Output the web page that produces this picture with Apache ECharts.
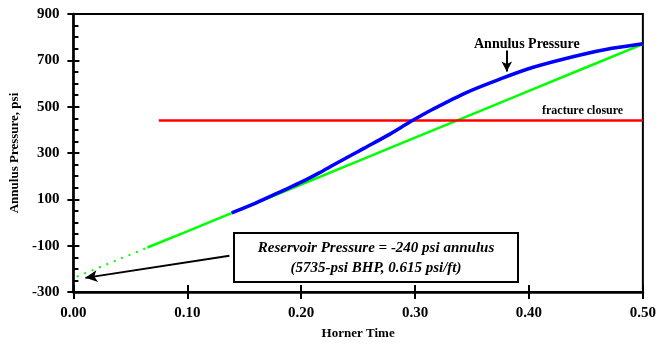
<!DOCTYPE html>
<html>
<head>
<meta charset="utf-8">
<script src="https://cdn.jsdelivr.net/npm/echarts@6/dist/echarts.min.js"></script>
<style>
html,body{margin:0;padding:0;background:#fff;}
#c{width:659px;height:349px;}
</style>
</head>
<body>
<div id="c"></div>
<script>
// Data
var xTicks = ['0.00','0.10','0.20','0.30','0.40','0.50'];
var yTicks = [900, 700, 500, 300, 100, -100, -300];
var greenDotted = [[0.003,-234],[0.065,-108]];
var greenLine = [[0.065,-108],[0.10,-38],[0.15,63],[0.20,164],[0.25,265],[0.30,366],[0.35,467],[0.40,568],[0.45,669],[0.50,770]];
var annulusPressure = [[0.139,42],[0.16,84],[0.185,140],[0.20,174],[0.215,212],[0.229,250],[0.2435,289],[0.255,320],[0.2755,375],[0.298,441],[0.316,490],[0.345,561],[0.374,618],[0.403,669],[0.444,722],[0.473,752],[0.50,772]];
var fractureClosure = [[0.075,440],[0.50,440]];
var reservoirArrow = [[0.137,-144],[0.0105,-239]];
var annulusArrow = [[0.3805,742],[0.3805,652]];

var FONT = '"Liberation Serif", "Times New Roman", serif';
var chart = echarts.init(document.getElementById('c'));
var axisCommon = {min:-300,max:900,interval:200};
var xCommon = {type:'value',min:0,max:0.5,interval:0.1};
chart.setOption({
  animation:false,
  backgroundColor:'#fff',
  grid:{left:71,right:16,top:14,bottom:57,show:true,borderColor:'#000',borderWidth:2,backgroundColor:'transparent'},
  xAxis:[
    Object.assign({},xCommon,{
      name:'Horner Time',nameLocation:'middle',nameGap:35,
      nameTextStyle:{fontFamily:FONT,fontWeight:'bold',fontSize:13,color:'#000'},
      axisLine:{show:true,onZero:false,lineStyle:{color:'#000',width:2.5}},
      axisTick:{show:true,inside:true,length:7,lineStyle:{color:'#000',width:2}},
      axisLabel:{fontFamily:FONT,fontWeight:'bold',fontSize:15,color:'#000',margin:14,
        formatter:function(v){return xTicks[Math.round(v*10)];}},
      splitLine:{show:false}
    }),
    Object.assign({},xCommon,{
      position:'bottom',
      axisLine:{show:false,onZero:false},
      axisTick:{show:true,inside:false,length:7,lineStyle:{color:'#000',width:2}},
      axisLabel:{show:false},splitLine:{show:false}
    })
  ],
  yAxis:[
    Object.assign({},axisCommon,{
      type:'value',
      name:'Annulus Pressure, psi',nameLocation:'middle',nameGap:52,nameRotate:90,
      nameTextStyle:{fontFamily:FONT,fontWeight:'bold',fontSize:13,color:'#000'},
      axisLine:{show:true,onZero:false,lineStyle:{color:'#000',width:2.5}},
      axisTick:{show:true,inside:true,length:6,lineStyle:{color:'#000',width:2}},
      minorTick:{show:true,splitNumber:4,length:5,lineStyle:{color:'#000',width:2}},
      axisLabel:{fontFamily:FONT,fontWeight:'bold',fontSize:15,color:'#000',margin:14,
        formatter:function(v){return yTicks.indexOf(v)>=0?String(v):'';}},
      splitLine:{show:false}
    }),
    Object.assign({},axisCommon,{
      type:'value',position:'left',
      axisLine:{show:false,onZero:false},
      axisTick:{show:true,inside:false,length:6,lineStyle:{color:'#000',width:2}},
      axisLabel:{show:false},splitLine:{show:false}
    })
  ],
  series:[
    {type:'line',data:greenDotted,showSymbol:false,lineStyle:{color:'#00ff00',width:2,type:[2,6]},z:3},
    {type:'line',data:greenLine,showSymbol:false,lineStyle:{color:'#00ff00',width:2.5},z:3},
    {type:'line',data:fractureClosure,showSymbol:false,lineStyle:{color:'#ff0000',width:2.5},z:4},
    {type:'line',data:annulusPressure,showSymbol:false,smooth:0.3,lineStyle:{color:'#0000ff',width:3.5},z:5},
    {type:'line',data:reservoirArrow,showSymbol:false,symbol:'none',lineStyle:{width:0},z:6,
      markLine:{silent:true,symbol:['none','arrow'],symbolSize:[9,12],label:{show:false},
        lineStyle:{color:'#000',width:2,type:'solid'},
        data:[[{coord:reservoirArrow[0]},{coord:reservoirArrow[1]}]]}},
    {type:'line',data:annulusArrow,showSymbol:false,symbol:'none',lineStyle:{width:0},z:6,
      markLine:{silent:true,symbol:['none','arrow'],symbolSize:[8,10],label:{show:false},
        lineStyle:{color:'#000',width:2,type:'solid'},
        data:[[{coord:annulusArrow[0]},{coord:annulusArrow[1]}]]}}
  ],
  graphic:[
    {type:'text',left:474,top:37,style:{text:'Annulus Pressure',fontFamily:FONT,fontWeight:'bold',fontSize:14,fill:'#000'}},
    {type:'text',left:542,top:105,style:{text:'fracture closure',fontFamily:FONT,fontWeight:'bold',fontSize:12,fill:'#000'}},
    {type:'rect',shape:{x:234,y:233,width:284,height:49},style:{fill:'#fff',stroke:'#000',lineWidth:2},z:100},
    {type:'text',x:376,y:248,z:101,style:{text:'Reservoir Pressure = -240 psi annulus',fontFamily:FONT,fontWeight:'bold',fontStyle:'italic',fontSize:15,fill:'#000',align:'center',verticalAlign:'middle'}},
    {type:'text',x:376,y:268,z:101,style:{text:'(5735-psi BHP, 0.615 psi/ft)',fontFamily:FONT,fontWeight:'bold',fontStyle:'italic',fontSize:15,fill:'#000',align:'center',verticalAlign:'middle'}}
  ]
});
</script>
</body>
</html>
